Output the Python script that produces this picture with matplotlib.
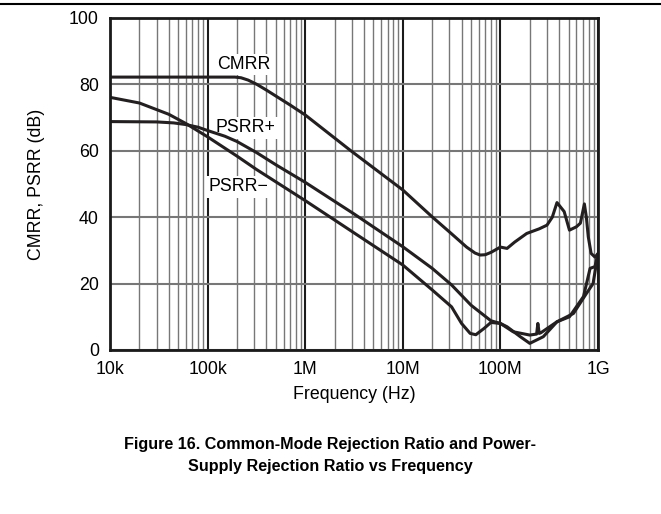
import matplotlib
matplotlib.use("Agg")
import matplotlib.pyplot as plt
from matplotlib.lines import Line2D
import numpy as np

plt.rcParams['font.family'] = ['Liberation Sans', 'DejaVu Sans']

# ---- data ----
cmrr_f = [1e4, 1.9e5, 2.2e5, 2.6e5, 3.2e5, 4e5, 5e5, 7e5, 1e6, 2.88e6, 1e7, 2e7, 3.16e7,
          4.5e7, 5.5e7, 6.2e7, 7e7, 8e7, 1e8, 1.17e8, 1.4e8, 1.86e8, 2.5e8, 3.0e8, 3.4e8,
          3.8e8, 4.5e8, 5.1e8, 6.0e8, 6.6e8, 7.25e8, 7.6e8, 7.95e8, 8.5e8, 9.3e8, 1e9]
cmrr_db = [82.2, 82.2, 82.0, 81.3, 80.0, 78.3, 76.5, 73.8, 70.8, 60.2, 48.2, 40.1, 35.0,
           31.0, 29.2, 28.6, 28.7, 29.4, 31.0, 30.6, 32.5, 35.1, 36.5, 37.6, 40.0,
           44.4, 41.7, 36.1, 37.1, 38.2, 44.0, 40.0, 34.1, 29.1, 28.0, 29.0]

psrrp_f = [1e4, 3e4, 4.5e4, 6e4, 8e4, 1e5, 1.5e5, 2e5, 3.16e5, 5e5, 1e6, 3.16e6, 1e7, 2e7,
           3.16e7, 5e7, 8e7, 1e8, 1.35e8, 2e8, 2.35e8, 2.42e8, 2.5e8, 2.6e8, 3.8e8,
           5.1e8, 7.1e8, 8.3e8, 9.3e8, 1e9]
psrrp_db = [68.8, 68.7, 68.4, 67.9, 67.1, 66.1, 64.4, 62.8, 59.5, 55.8, 50.5, 41.0, 31.1, 24.6,
            19.6, 13.5, 8.8, 8.0, 5.5, 4.5, 4.8, 8.0, 5.0, 5.2, 8.5,
            10.0, 16.1, 24.6, 25.1, 29.0]

psrrm_f = [1e4, 2e4, 4e4, 6e4, 1e5, 2e5, 3.16e5, 1e6, 3.16e6, 1e7, 2e7, 3.16e7, 4e7,
           4.9e7, 5.6e7, 6.8e7, 8e7, 1e8, 1.17e8, 1.6e8, 2e8, 2.75e8, 3.8e8, 5.6e8,
           7.6e8, 8.9e8, 1e9]
psrrm_db = [76.1, 74.4, 71.0, 68.2, 64.2, 58.4, 54.4, 45.0, 35.3, 25.6, 18.1, 13.0, 8.0,
            5.0, 4.6, 6.5, 8.3, 8.0, 7.0, 4.0, 2.0, 4.0, 8.5, 11.0,
            17.0, 20.0, 29.0]

xtick_vals = [1e4, 1e5, 1e6, 1e7, 1e8, 1e9]
xtick_labels = ['10k', '100k', '1M', '10M', '100M', '1G']
ytick_vals = [0, 20, 40, 60, 80, 100]

FS = 12.8
W, H = 661, 514
fig = plt.figure(figsize=(W / 100, H / 100), dpi=100)
ax = fig.add_axes([110 / W, 1 - 350 / H, (598 - 110) / W, (350 - 18) / H])

ax.set_xscale('log')
ax.set_xlim(1e4, 1e9)
ax.set_ylim(0, 100)

ax.set_xticks(xtick_vals)
ax.set_xticklabels(xtick_labels, fontsize=FS)
ax.set_yticks(ytick_vals)
ax.set_yticklabels([str(v) for v in ytick_vals], fontsize=FS)
ax.tick_params(axis='both', length=0, pad=8)
ax.xaxis.set_minor_locator(matplotlib.ticker.LogLocator(base=10, subs=np.arange(2, 10)))
ax.xaxis.set_minor_formatter(matplotlib.ticker.NullFormatter())
ax.tick_params(axis='x', which='minor', length=0)
ax.grid(True, axis='x', which='minor', color='#777777', lw=1.0, zorder=0.5)
ax.grid(True, axis='x', which='major', color='#1a1a1a', lw=1.5, zorder=0.5)
ax.grid(True, axis='y', which='major', color='#777777', lw=1.5, zorder=0.5)
ax.set_axisbelow(True)
for s in ax.spines.values():
    s.set_linewidth(2.0)
    s.set_color('#1a1a1a')
    s.set_zorder(3)

lc = '#231f20'
for fx, dy in [(cmrr_f, cmrr_db), (psrrp_f, psrrp_db), (psrrm_f, psrrm_db)]:
    ax.plot(fx, dy, color=lc, lw=2.2, solid_joinstyle='round', solid_capstyle='round',
            zorder=2)

bbox = dict(facecolor='white', edgecolor='none', pad=1.5)
ax.text(2.35e5, 86.1, 'CMRR', fontsize=FS, ha='center', va='center', bbox=bbox, zorder=1.5)
ax.text(2.45e5, 66.9, 'PSRR+', fontsize=FS, ha='center', va='center', bbox=bbox, zorder=1.5)
ax.text(2.05e5, 49.1, 'PSRR\u2212', fontsize=FS, ha='center', va='center', bbox=bbox, zorder=1.5)

ax.set_xlabel('Frequency (Hz)', fontsize=FS, labelpad=6)
ax.set_ylabel('CMRR, PSRR (dB)', fontsize=FS, labelpad=17)

fig.add_artist(Line2D([0, 1], [1 - 4 / H, 1 - 4 / H], color='black', lw=1.5,
                      transform=fig.transFigure))

fig.text(0.5, 1 - 444 / H, 'Figure 16. Common-Mode Rejection Ratio and Power-',
         ha='center', va='center', fontsize=11.6, fontweight='bold')
fig.text(0.5, 1 - 466 / H, 'Supply Rejection Ratio vs Frequency',
         ha='center', va='center', fontsize=11.6, fontweight='bold')

fig.savefig('out.png', dpi=100)
